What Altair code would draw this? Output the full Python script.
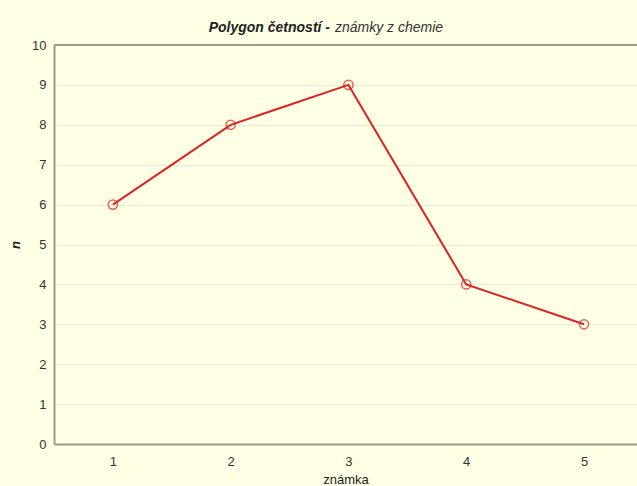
import altair as alt
import pandas as pd

znamka = [1, 2, 3, 4, 5]
n = [6, 8, 9, 4, 3]
y_ticks = [0, 1, 2, 3, 4, 5, 6, 7, 8, 9, 10]

df = pd.DataFrame({"znamka": znamka, "n": n})

BG = "#FFFFE6"
RED = "#DD2020"
FONT = "Liberation Sans"

xs = alt.Scale(domain=[0.5, 5.45], nice=False, zero=False)
ys = alt.Scale(domain=[0, 10], nice=False)

x_axis = alt.Axis(values=znamka, format="d", grid=False, ticks=False,
                  labelPadding=11, titlePadding=5)
y_axis = alt.Axis(values=y_ticks, grid=True, ticks=False,
                  labelPadding=8, titlePadding=9,
                  titleFontWeight="bold", titleFontStyle="italic")

base = alt.Chart(df)

line = base.mark_line(color=RED, strokeWidth=2).encode(
    x=alt.X("znamka:Q", scale=xs, title="známka", axis=x_axis),
    y=alt.Y("n:Q", scale=ys, title="n", axis=y_axis),
)
pts = base.mark_point(shape="circle", filled=False, color=RED, size=85, strokeWidth=1.5).encode(
    x=alt.X("znamka:Q", scale=xs, title="známka", axis=x_axis),
    y=alt.Y("n:Q", scale=ys, title="n", axis=y_axis),
)
top = alt.Chart(pd.DataFrame({"v": [10]})).mark_rule(color="#9A9A8A", strokeWidth=2).encode(
    y=alt.Y("v:Q", scale=ys, title="n", axis=y_axis)
)
t1 = alt.Chart(pd.DataFrame({"t": ["Polygon četností -"]})).mark_text(
    align="right", baseline="middle", font=FONT, fontSize=14,
    fontWeight="bold", fontStyle="italic", color="#222222"
).encode(text="t:N", x=alt.value(276), y=alt.value(-17))
t2 = alt.Chart(pd.DataFrame({"t": ["známky z chemie"]})).mark_text(
    align="left", baseline="middle", font=FONT, fontSize=14,
    fontStyle="italic", color="#333333"
).encode(text="t:N", x=alt.value(281), y=alt.value(-17))

chart = alt.layer(line, pts, top, t1, t2).properties(
    width=583, height=399, background=BG,
    autosize=alt.AutoSizeParams(type="none"),
    padding={"left": 54, "top": 45, "right": 0, "bottom": 42},
).configure_view(stroke=None, fill=BG).configure_axis(
    domainColor="#9A9A8A", domainWidth=2, gridColor="#EDEDD6", gridWidth=1,
    labelFont=FONT, labelFontSize=13, labelColor="#333333",
    titleFont=FONT, titleFontSize=13, titleColor="#222222", titleFontWeight="normal",
)

chart.save("out.html", embed_options={"renderer": "svg", "actions": False})
